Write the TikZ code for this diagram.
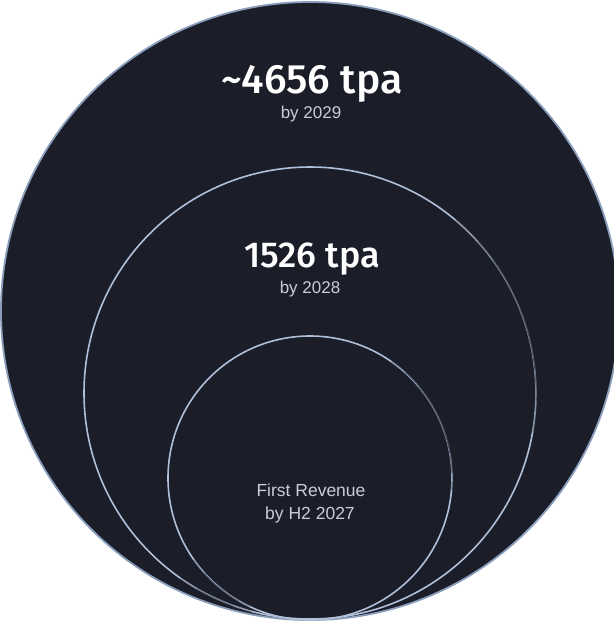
\documentclass[tikz,border=0pt]{standalone}
\usepackage{fontspec}
\setmainfont{Liberation Sans}
\newfontfamily\numfont{Fira Sans}[UprightFont=* Medium]
\definecolor{navy}{HTML}{1B1E29}
\definecolor{rim}{HTML}{8A9EBC}
\definecolor{ring}{HTML}{B0C0D8}
\definecolor{txt}{HTML}{C9CDD6}
\begin{document}
\begin{tikzpicture}[x=1pt,y=-1pt,
  bignum/.style={anchor=base,text=white,font=\numfont\fontsize{41}{44}\selectfont,inner sep=0pt},
  midnum/.style={anchor=base,text=white,font=\numfont\fontsize{36}{40}\selectfont,inner sep=0pt},
  subtxt/.style={anchor=base,text=txt,font=\fontsize{17}{20}\selectfont,inner sep=0pt},
  ringline/.style={draw=ring,line width=1.6pt},
  dim/.style={draw=navy,line width=2.2pt,opacity=0.3}]
\useasboundingbox (0,0) rectangle (614,641);
\clip (0,0) rectangle (614,641);
\fill[white] (0,0) rectangle (614,641);
\node[circle,fill=navy,draw=rim,line width=1.8pt,minimum size=618pt,inner sep=0pt] (outer) at (310,311) {};
\node[circle,ringline,minimum size=452pt,inner sep=0pt] (middle) at (310,393) {};
\node[circle,ringline,minimum size=284pt,inner sep=0pt] (inner) at (310,478) {};
% soft fading of the ring lines
\foreach \a/\b in {50/-10,42/-2,36/6}{
  \draw[dim] (middle.\a) arc[start angle=\a,end angle=\b,radius=226pt];}
\foreach \a/\b in {55/-5,48/2,40/10}{
  \draw[dim] (inner.\a) arc[start angle=\a,end angle=\b,radius=142pt];}
\foreach \a/\b in {235/255,240/250}{
  \draw[dim] (middle.\a) arc[start angle=\a,end angle=\b,radius=226pt];}
\foreach \a/\b in {215/245,222/240}{
  \draw[dim] (inner.\a) arc[start angle=\a,end angle=\b,radius=142pt];}
\node[bignum] (t1) at (312,93) {\char"007E 4656 tpa};
\node[subtxt] (s1) at (311,118) {by 2029};
\node[midnum] (t2) at (312,267) {1526 tpa};
\node[subtxt] (s2) at (310,293) {by 2028};
\node[subtxt,font=\fontsize{17.5}{21}\selectfont] (s3) at (311,496) {First Revenue};
\node[subtxt,font=\fontsize{17.5}{21}\selectfont] (s4) at (310,519) {by H2 2027};
\end{tikzpicture}
\end{document}
